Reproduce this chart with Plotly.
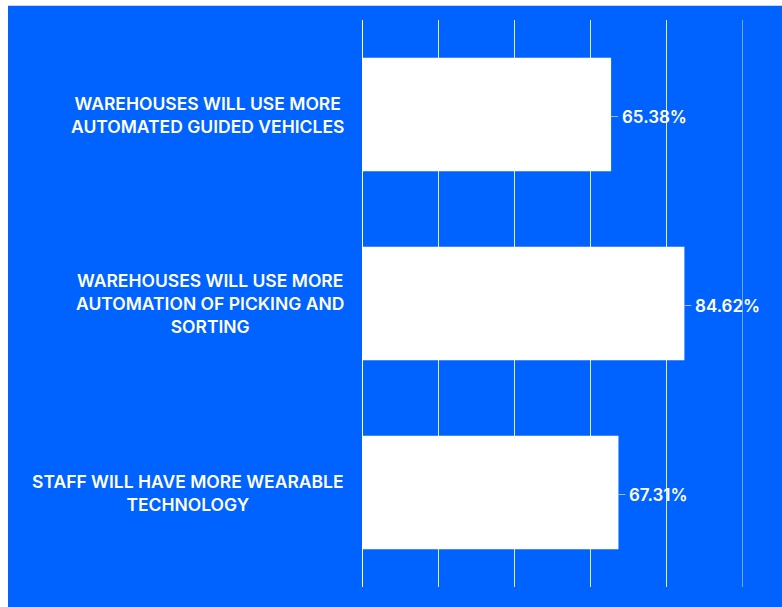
import plotly.graph_objects as go

# Survey results: share of respondents expecting each change
categories = [
    "WAREHOUSES WILL USE MORE<br>AUTOMATED GUIDED VEHICLES",
    "WAREHOUSES WILL USE MORE<br>AUTOMATION OF PICKING AND<br>SORTING",
    "STAFF WILL HAVE MORE WEARABLE<br>TECHNOLOGY",
]
values = [65.38, 84.62, 67.31]
value_labels = ["65.38%", "84.62%", "67.31%"]
x_ticks = [0, 20, 40, 60, 80, 100]

BLUE = "#0062FF"
FONT = "Inter"

# plot-area geometry in pixels (used to place the page frame)
W, H = 782, 607
L, R, T, B = 362, 39, 20, 20
pw, ph = W - L - R, H - T - B


def px_x(px):
    return (px - L) / pw


def px_y(py):
    return (H - B - py) / ph


fig = go.Figure(
    go.Bar(
        x=values,
        y=categories,
        orientation="h",
        width=0.6,
        marker=dict(color="white", line=dict(width=0)),
        hoverinfo="skip",
    )
)

# blue panel with a thin white frame on the top and left
fig.add_shape(
    type="rect", xref="paper", yref="paper", layer="below",
    x0=px_x(8), x1=px_x(W + 2), y0=px_y(H + 2), y1=px_y(5),
    fillcolor=BLUE, line=dict(width=0),
)
fig.add_shape(
    type="line", xref="paper", yref="paper",
    x0=px_x(8), x1=px_x(W + 2), y0=px_y(5.5), y1=px_y(5.5),
    line=dict(color="#c9d6ee", width=1),
)
# gridline at the far end of the axis
fig.add_shape(
    type="line", xref="x", yref="paper", layer="below",
    x0=x_ticks[-1], x1=x_ticks[-1], y0=0, y1=1,
    line=dict(color="rgba(255,255,255,0.85)", width=1),
)

annotations = []
# category labels: centred lines, block right-aligned next to the axis
for cat in categories:
    annotations.append(dict(
        x=0, xref="paper", y=cat, yref="y",
        text=cat, showarrow=False, align="center",
        xanchor="right", yanchor="middle", xshift=-16,
        font=dict(family=FONT, size=17.5, color="white", weight=600),
    ))

# value labels with a short leader tick
for cat, v, lab in zip(categories, values, value_labels):
    annotations.append(dict(
        x=v, xref="x", y=cat, yref="y",
        text=lab, showarrow=True, arrowhead=0, arrowwidth=1,
        arrowcolor="rgba(190,190,190,0.9)",
        ax=9, ay=0, startstandoff=2, standoff=0,
        xanchor="left", yanchor="middle", yshift=-2,
        font=dict(family=FONT, size=17, color="white", weight=600),
    ))

fig.update_layout(
    width=W, height=H,
    margin=dict(l=L, r=R, t=T, b=B),
    paper_bgcolor="white",
    plot_bgcolor=BLUE,
    showlegend=False,
    annotations=annotations,
    xaxis=dict(
        range=[x_ticks[0], x_ticks[-1]], tickvals=x_ticks, showticklabels=False,
        showgrid=True, gridcolor="rgba(255,255,255,0.85)", gridwidth=1,
        zeroline=True, zerolinecolor="white", zerolinewidth=1,
        showline=False, fixedrange=True,
    ),
    yaxis=dict(
        autorange="reversed", showticklabels=False, showgrid=False,
        zeroline=False, showline=False, fixedrange=True,
    ),
)

fig.write_html("out.html")
